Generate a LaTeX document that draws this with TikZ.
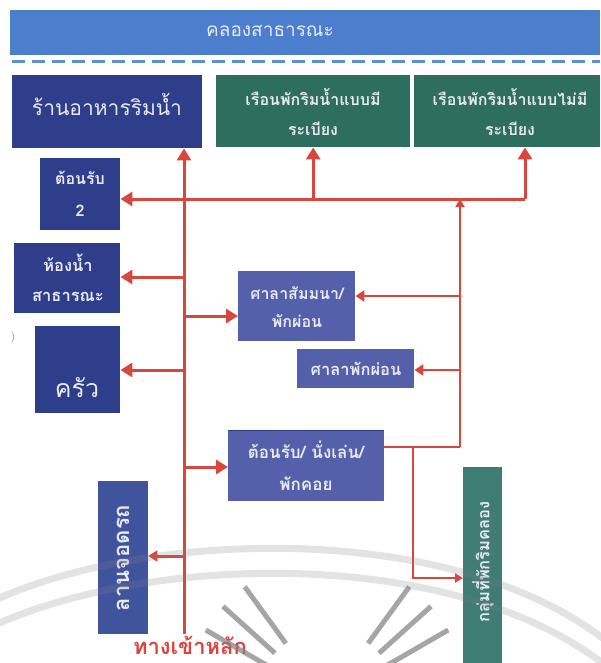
\documentclass[tikz,border=0pt]{standalone}
\usepackage{fontspec}
\newfontfamily\thai[Script=Thai]{Loma}
\usetikzlibrary{arrows.meta}
\definecolor{band}{RGB}{76,126,206}
\definecolor{dashc}{RGB}{92,142,214}
\definecolor{navy}{RGB}{47,62,138}
\definecolor{navyl}{RGB}{84,96,170}
\definecolor{navym}{RGB}{64,84,158}
\definecolor{greenb}{RGB}{46,110,94}
\definecolor{greenv}{RGB}{62,124,116}
\definecolor{redl}{RGB}{217,70,62}
\definecolor{txt}{RGB}{232,234,242}
\tikzset{
  boxs/.style={draw=none, inner sep=0pt, anchor=north west},
  lbl/.style={text=txt, align=center, inner sep=0pt},
  conn/.style={draw=redl, line width=3pt},
  thin/.style={draw=redl, line width=2pt},
  bigtip/.style={-{Triangle[width=14pt,length=12pt]}},
  midtip/.style={-{Triangle[width=11pt,length=9pt]}},
  smalltip/.style={-{Triangle[width=9pt,length=8pt]}},
}
\begin{document}
\begin{tikzpicture}[x=1pt,y=-1pt]
\useasboundingbox (0,0) rectangle (600,663);
\fill[white] (0,0) rectangle (600,663);
% top band
\node[boxs, fill=band, minimum width=590, minimum height=45] (canal) at (10,10) {};
\node[lbl, font={\thai\fontsize{19}{22}\selectfont}] (canalt) at (270,31) {คลองสาธารณะ};
\draw[dashc, line width=3pt, dash pattern=on 13pt off 7pt] (12,62) -- (600,62);
% boxes
\node[boxs, fill=navy, minimum width=190, minimum height=73] (rest) at (12,75) {};
\node[lbl, font={\thai\fontsize{21}{24}\selectfont}] (restt) at (107,104) {ร้านอาหารริมน้ำ};
\node[boxs, fill=greenb, minimum width=194, minimum height=72] (g1) at (216,75) {};
\node[lbl, font={\thai\bfseries\fontsize{16}{30}\selectfont}] (g1t) at (313,112) {เรือนพักริมน้ำแบบมี\\ระเบียง};
\node[boxs, fill=greenb, minimum width=186, minimum height=72] (g2) at (414,75) {};
\node[lbl, font={\thai\bfseries\fontsize{16}{30}\selectfont}] (g2t) at (510,112) {เรือนพักริมน้ำแบบไม่มี\\ระเบียง};
\node[boxs, fill=navy, minimum width=80, minimum height=72] (r2) at (40,158) {};
\node[lbl, font={\thai\bfseries\fontsize{16}{32}\selectfont}] (r2t) at (80,194) {ต้อนรับ\\2};
\node[boxs, fill=navy, minimum width=106, minimum height=70] (wc) at (14,243) {};
\node[lbl, font={\thai\bfseries\fontsize{16.5}{30}\selectfont}] (wct) at (68,278) {ห้องน้ำ\\สาธารณะ};
\node[boxs, fill=navy, minimum width=85, minimum height=87] (kit) at (35,326) {};
\node[lbl, font={\thai\fontsize{25}{28}\selectfont}] (kitt) at (77,388) {ครัว};
\node[text=gray, font=\fontsize{12}{12}\selectfont, inner sep=0pt] (mark) at (13,338) {)};
\node[boxs, fill=navyl, minimum width=117, minimum height=70] (s1) at (238,271) {};
\node[lbl, font={\thai\bfseries\fontsize{16}{28}\selectfont}] (s1t) at (297,307) {ศาลาสัมมนา/\\พักผ่อน};
\node[boxs, fill=navyl, minimum width=117, minimum height=39] (s2) at (297,349) {};
\node[lbl, font={\thai\bfseries\fontsize{16.5}{18}\selectfont}] (s2t) at (356,369) {ศาลาพักผ่อน};
\node[boxs, fill=navyl, minimum width=156, minimum height=71] (lob) at (228,430) {};
\fill[navy] (lob.north west) rectangle ([yshift=35.5pt]lob.east);
\node[lbl, font={\thai\bfseries\fontsize{17}{32}\selectfont}] (lobt) at (306,466) {ต้อนรับ/ นั่งเล่น/\\พักคอย};
\node[boxs, fill=navym, minimum width=50, minimum height=153] (park) at (98,481) {};
\node[lbl, rotate=90, font={\thai\bfseries\fontsize{22}{24}\selectfont}] (parkt) at (123,558) {ลานจอดรถ};
\node[boxs, fill=greenv, minimum width=39, minimum height=196] (gv) at (463,467) {};
\node[lbl, rotate=90, font={\thai\bfseries\fontsize{16.5}{18}\selectfont}] (gvt) at (483,562) {กลุ่มที่พักริมคลอง};
\node[text=redl, inner sep=0pt, font={\thai\bfseries\fontsize{22}{24}\selectfont}] (entry) at (190,645) {ทางเข้าหลัก};
% coordinates
\coordinate (tb) at (184,634);
\coordinate (hr) at (525,199);
\coordinate (rt) at (460,447);
\coordinate (lr) at (413,447);
\coordinate (lb) at (413,578);
% main trunk
\draw[conn, bigtip] (tb) -- (tb |- rest.south);
\draw[conn, bigtip] (hr) -- (r2.east |- hr);
\draw[conn, bigtip] (hr) -- (hr |- g2.south);
\draw[conn, bigtip] (g1.south |- hr) -- (g1.south);
\draw[conn, bigtip] (tb |- 0,277) -- (wc.east |- 0,277);
\draw[conn, bigtip] (tb |- 0,316) -- (s1.west |- 0,316);
\draw[conn, bigtip] (tb |- 0,370) -- (kit.east |- 0,370);
\draw[conn, bigtip] (tb |- 0,467) -- (lob.west |- 0,467);
\draw[conn, midtip] (tb |- 0,556) -- (park.east |- 0,556);
% right trunk
\draw[thin, line width=2.5pt, smalltip] (rt) -- (rt |- hr);
\draw[thin, line width=2.5pt, midtip] (rt |- 0,296) -- (s1.east |- 0,296);
\draw[thin, line width=2.5pt, midtip] (rt |- 0,370) -- (s2.east |- 0,370);
\draw[thin] (lob.east |- rt) -- (rt);
\draw[thin, smalltip] (lr) -- (lb) -- (gv.west |- lb);
% watermark
\begin{scope}[draw=gray, opacity=0.22, line width=7pt]
\draw (-5,600) .. controls (150,530) and (450,520) .. (605,640);
\draw (-5,625) .. controls (150,555) and (450,545) .. (605,665);
\begin{scope}[shift={(327,700)}, opacity=0.7]
\foreach \a in {30,42,54,126,138,150}
  \draw[line width=5pt] (-\a:70) -- (-\a:140);
\end{scope}
\end{scope}
\end{tikzpicture}
\end{document}
